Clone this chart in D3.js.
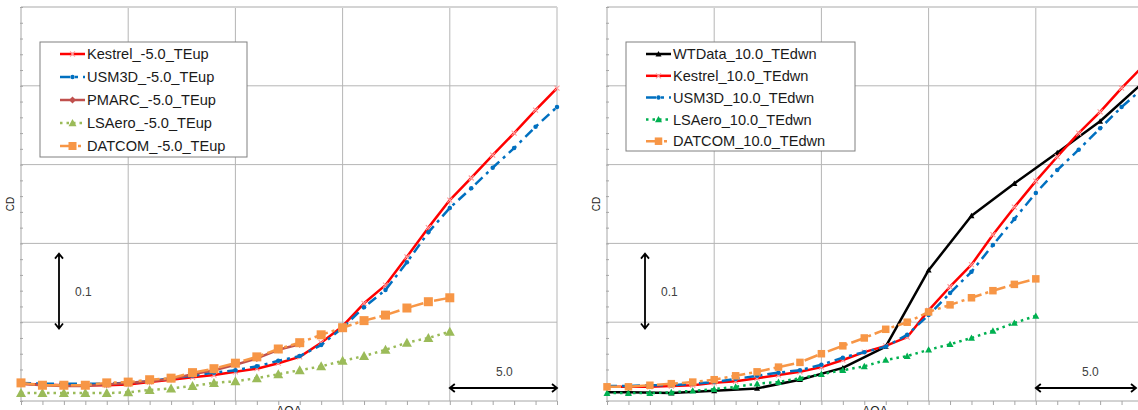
<!DOCTYPE html>
<html><head><meta charset="utf-8">
<script src="https://cdn.jsdelivr.net/npm/d3@7"></script>
<style>body{margin:0;background:#fff}svg{display:block}text{font-family:"Liberation Sans",Arial,sans-serif}</style>
</head><body><svg id="c" width="1138" height="410"></svg>
<script>
// ---------- data ----------
const aoa = [-5,-4,-3,-2,-1,0,1,2,3,4,5,6,7,8,9,10,11,12,13,14,15,16,17,18,19,20];
const aoaWT = [-6,-4,-2,0,2,4,6,8,10,12,14,16,18,20];

// left panel (-5.0 TEup)
const kestrelL = [0.022,0.021,0.020,0.020,0.020,0.021,0.024,0.027,0.030,0.033,0.037,0.041,0.048,0.056,0.074,0.095,0.124,0.147,0.183,0.220,0.255,0.283,0.312,0.340,0.369,0.397];
const usm3dL   = [0.023,0.022,0.022,0.022,0.022,0.023,0.025,0.029,0.032,0.036,0.039,0.044,0.051,0.057,0.071,0.093,0.119,0.141,0.176,0.214,0.245,0.270,0.296,0.321,0.348,0.373];
const pmarcL   = [0.022,0.020,0.019,0.019,0.021,0.023,0.025,0.028,0.034,0.039,0.046,0.054,0.065,0.072];
const lsaeroL  = [0.010,0.010,0.010,0.010,0.010,0.011,0.014,0.016,0.019,0.023,0.025,0.029,0.034,0.039,0.044,0.051,0.057,0.065,0.074,0.080,0.088];
const datcomL  = [0.023,0.020,0.020,0.020,0.023,0.024,0.027,0.029,0.036,0.041,0.048,0.056,0.066,0.074,0.084,0.093,0.102,0.109,0.118,0.126,0.131];

// right panel (10.0 TEdwn)
const wtdataR  = [0.011,0.011,0.010,0.013,0.016,0.027,0.042,0.069,0.166,0.235,0.276,0.315,0.355,0.404];
const kestrelR = [0.018,0.018,0.018,0.019,0.020,0.023,0.025,0.029,0.033,0.037,0.043,0.052,0.062,0.070,0.081,0.115,0.145,0.173,0.211,0.246,0.279,0.310,0.340,0.367,0.397,0.425];
const usm3dR   = [0.019,0.019,0.020,0.020,0.022,0.024,0.028,0.032,0.036,0.039,0.046,0.055,0.062,0.069,0.084,0.109,0.137,0.164,0.198,0.231,0.264,0.293,0.319,0.346,0.373,0.397];
const lsaeroR  = [0.010,0.010,0.010,0.011,0.013,0.015,0.018,0.022,0.024,0.029,0.034,0.039,0.044,0.052,0.057,0.065,0.072,0.080,0.089,0.099,0.108];
const datcomR  = [0.018,0.018,0.020,0.022,0.024,0.027,0.032,0.037,0.043,0.049,0.060,0.070,0.080,0.091,0.100,0.113,0.122,0.131,0.140,0.148,0.155];

const namesL = ["Kestrel_-5.0_TEup","USM3D_-5.0_TEup","PMARC_-5.0_TEup","LSAero_-5.0_TEup","DATCOM_-5.0_TEup"];
const namesR = ["WTData_10.0_TEdwn","Kestrel_10.0_TEdwn","USM3D_10.0_TEdwn","LSAero_10.0_TEdwn","DATCOM_10.0_TEdwn"];
const xDomain = [-5, 20];
const yDomain = [0, 0.5];
const xMajor = [-5,0,5,10,15,20];
const yMajor = [0,0.1,0.2,0.3,0.4,0.5];

// ---------- styles ----------
const S = {
  kestrel:{color:"#ff0000", dash:null, marker:"x", mcolor:"#ff9c9c", msize:5},
  usm3d:{color:"#0070c0", dash:"10,5,3,5", marker:"circle", mcolor:"#0070c0", msize:4.5},
  pmarc:{color:"#c0504d", dash:null, marker:"diamond", mcolor:"#c0504d", msize:7},
  lsaeroL:{color:"#9bbb59", dash:"2.5,4", marker:"triangle", mcolor:"#9bbb59", msize:10},
  datcomL:{color:"#f79646", dash:"14,4,3,4", marker:"square", mcolor:"#f79646", msize:9},
  wt:{color:"#000000", dash:null, marker:"triangle", mcolor:"#000000", msize:6},
  lsaeroR:{color:"#00b050", dash:"2.5,4", marker:"triangle", mcolor:"#00b050", msize:7},
  datcomR:{color:"#f79646", dash:"14,4,3,4", marker:"square", mcolor:"#f79646", msize:7.5}
};

const svg = d3.select("#c");
const TOP = 7, BOT = 401, PW = 536;

function marker(g, type, x, y, size, color){
  const h = size/2;
  if(type==="x"){
    g.append("path").attr("d",`M${x-h},${y-h}L${x+h},${y+h}M${x-h},${y+h}L${x+h},${y-h}`)
     .attr("stroke",color).attr("stroke-width",1.1).attr("fill","none");
  } else if(type==="circle"){
    g.append("circle").attr("cx",x).attr("cy",y).attr("r",h).attr("fill",color);
  } else if(type==="diamond"){
    g.append("path").attr("d",`M${x},${y-h}L${x+h},${y}L${x},${y+h}L${x-h},${y}Z`).attr("fill",color);
  } else if(type==="triangle"){
    g.append("path").attr("d",`M${x},${y-h}L${x+h},${y+h*0.8}L${x-h},${y+h*0.8}Z`).attr("fill",color);
  } else if(type==="square"){
    g.append("rect").attr("x",x-h).attr("y",y-h).attr("width",size).attr("height",size).attr("fill",color);
  }
}

function panel(x0, id, series, names, leg){
  const x = d3.scaleLinear().domain(xDomain).range([x0, x0+PW]);
  const y = d3.scaleLinear().domain(yDomain).range([BOT, TOP]);
  const g = svg.append("g");
  // grid
  g.append("g").selectAll("line").data(xMajor.slice(1)).join("line")
    .attr("x1",d=>x(d)).attr("x2",d=>x(d)).attr("y1",TOP).attr("y2",BOT)
    .attr("stroke","#b5b5b5").attr("stroke-width",1);
  g.append("g").selectAll("line").data(yMajor.slice(1,-1)).join("line")
    .attr("x1",x0).attr("x2",x0+PW).attr("y1",d=>y(d)).attr("y2",d=>y(d))
    .attr("stroke","#b5b5b5").attr("stroke-width",1);
  g.append("line").attr("x1",x0).attr("x2",x0+PW).attr("y1",y(0.5)).attr("y2",y(0.5))
    .attr("stroke","#d4d4d4").attr("stroke-width",2);
  // axes with minor ticks
  const xAxis = d3.axisBottom(x).tickValues(aoa).tickSize(4).tickFormat("");
  const ax = g.append("g").attr("transform",`translate(0,${BOT})`).call(xAxis);
  const yAxis = d3.axisLeft(y).tickValues(d3.range(0,0.5001,0.02)).tickSize(3).tickFormat("");
  const ay = g.append("g").attr("transform",`translate(${x0+2},0)`).call(yAxis);
  [ax,ay].forEach(a=>{a.select(".domain").attr("stroke","#a6a6a6"); a.selectAll(".tick line").attr("stroke","#a6a6a6");});
  ay.select(".domain").attr("transform","translate(-2,0)").attr("d",`M0,${TOP}V${BOT}`);
  ax.select(".domain").attr("d",`M${x0},0H${x0+PW}`);
  // axis titles
  g.append("text").attr("transform",`translate(${x0-7},${y(0.25)}) rotate(-90)`)
    .attr("text-anchor","middle").attr("font-size",10).attr("fill","#222").text("CD");
  g.append("text").attr("x",x(7.5)).attr("y",415).attr("text-anchor","middle")
    .attr("font-size",12).attr("fill","#222").text("AOA");
  // clip
  svg.append("clipPath").attr("id",id).append("rect").attr("x",x0).attr("y",0).attr("width",PW).attr("height",410);
  const sg = g.append("g");
  series.forEach(s=>{
    const pts = s.vals.map((v,i)=>[s.xs[i], v]);
    const line = d3.line().x(d=>x(d[0])).y(d=>y(d[1]));
    sg.append("path").attr("d",line(pts)).attr("fill","none").attr("stroke",s.st.color)
      .attr("stroke-width",2.5).attr("stroke-dasharray",s.st.dash).attr("clip-path",`url(#${id})`)
      .attr("stroke-linejoin","round");
    pts.filter(p=>p[0]>=xDomain[0]).forEach(p=>marker(sg, s.st.marker, x(p[0]), y(p[1]), s.st.msize, s.st.mcolor));
  });
  // legend
  const lg = g.append("g");
  lg.append("rect").attr("x",leg.x).attr("y",leg.y).attr("width",leg.w).attr("height",leg.h)
    .attr("fill","#fff").attr("stroke","#808080").attr("stroke-width",1);
  series.forEach((s,i)=>{
    const yy = leg.y + 12 + i*leg.dy;
    const lx = leg.x + 20;
    lg.append("path").attr("d",`M${lx},${yy}H${lx+25}`).attr("stroke",s.st.color).attr("stroke-width",2.5)
      .attr("stroke-dasharray",s.st.dash).attr("fill","none");
    marker(lg, s.st.marker, lx+12.5, yy, Math.min(s.st.msize,8), s.st.mcolor);
    lg.append("text").attr("x",lx+27).attr("y",yy+5.2).attr("font-size",leg.fs).attr("fill","#1a1a1a").text(names[i]);
  });
  // annotation arrows
  const ann = g.append("g").attr("stroke","#000").attr("stroke-width",1.8).attr("fill","none");
  const vx = x0+38, vy1 = y(0.187), vy2 = y(0.092);
  ann.append("path").attr("d",`M${vx},${vy1}V${vy2}M${vx-4},${vy1+5}L${vx},${vy1}L${vx+4},${vy1+5}M${vx-4},${vy2-5}L${vx},${vy2}L${vx+4},${vy2-5}`);
  g.append("text").attr("x",vx+16).attr("y",y(0.138)+4).attr("font-size",12).attr("fill","#404040").text("0.1");
  const hy = 388, hx1 = x(15), hx2 = Math.min(x(20), 1136);
  ann.append("path").attr("d",`M${hx1},${hy}H${hx2}M${hx1+5},${hy-4}L${hx1},${hy}L${hx1+5},${hy+4}M${hx2-5},${hy-4}L${hx2},${hy}L${hx2-5},${hy+4}`);
  g.append("text").attr("x",x(17.5)+1).attr("y",376).attr("text-anchor","middle").attr("font-size",12).attr("fill","#404040").text("5.0");
}

panel(21, "clipL", [
  {xs:aoa, vals:kestrelL, st:S.kestrel},
  {xs:aoa, vals:usm3dL, st:S.usm3d},
  {xs:aoa, vals:pmarcL, st:S.pmarc},
  {xs:aoa, vals:lsaeroL, st:S.lsaeroL},
  {xs:aoa, vals:datcomL, st:S.datcomL}
], namesL, {x:40, y:42, w:207, h:115, dy:23, fs:14.6});

panel(607, "clipR", [
  {xs:aoaWT, vals:wtdataR, st:S.wt},
  {xs:aoa, vals:kestrelR, st:S.kestrel},
  {xs:aoa, vals:usm3dR, st:S.usm3d},
  {xs:aoa, vals:lsaeroR, st:S.lsaeroR},
  {xs:aoa, vals:datcomR, st:S.datcomR}
], namesR, {x:626, y:42, w:229, h:109, dy:21.8, fs:14.6});
</script></body></html>
